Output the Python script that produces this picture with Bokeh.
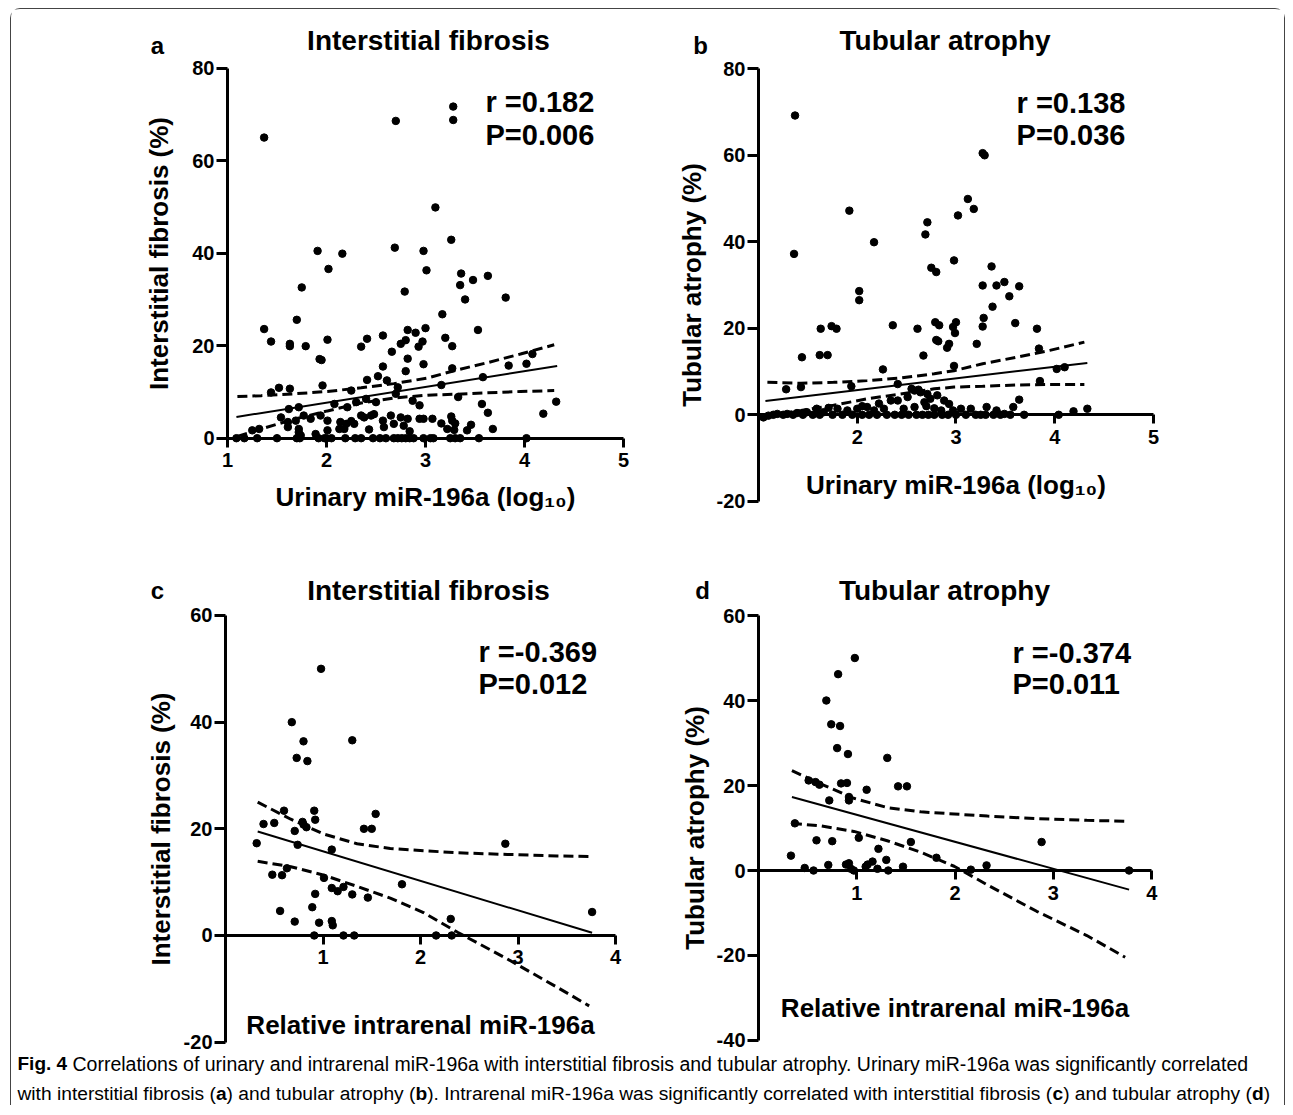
from bokeh.plotting import figure
from bokeh.models import Range1d, FixedTicker, Label
from bokeh.layouts import row, column
from bokeh.embed import file_html
from bokeh.resources import INLINE

FONT = "Liberation Sans"

# ---------------- panel a: urinary miR-196a vs interstitial fibrosis
a_x = [
    1.37, 2.70, 3.28, 3.28, 3.10, 3.26, 1.91, 2.16, 2.69, 2.98,
    2.02, 3.01, 3.36, 3.63, 3.48, 3.35, 1.75, 2.79, 3.40, 3.81,
    1.70, 3.17, 1.37, 3.53, 1.44, 1.63, 1.63, 1.79, 2.01, 2.41,
    2.35, 2.57, 2.82, 2.90, 3.00, 3.20, 3.27, 2.75, 2.80, 2.93,
    2.97, 1.93, 1.95, 2.82, 2.98, 2.66, 2.80, 2.57, 2.52, 3.27,
    3.84, 4.02, 4.08, 3.58, 2.41, 2.61, 1.52, 1.63, 1.96, 1.44,
    2.25, 2.72, 2.40, 2.50, 2.70, 2.87, 2.94, 1.62, 1.72, 2.08,
    2.21, 2.30, 2.35, 2.45, 2.48, 2.65, 2.75, 2.82, 2.94, 1.54,
    1.61, 1.69, 1.77, 1.84, 1.94, 2.01, 2.14, 2.20, 2.25, 2.38,
    2.57, 2.68, 2.78, 1.61, 1.72, 2.13, 2.18, 2.28, 2.43, 2.58,
    2.84, 1.25, 1.32, 1.72, 1.89, 2.01, 1.74, 3.16, 3.33, 3.57,
    4.32, 3.63, 4.19, 2.98, 3.07, 3.16, 3.26, 3.27, 3.30, 3.22,
    3.29, 3.46, 3.42, 3.68, 1.09, 1.17, 1.30, 1.50, 1.70, 1.73,
    1.92, 1.98, 2.00, 2.05, 2.19, 2.29, 2.35, 2.47, 2.54, 2.60,
    2.68, 2.72, 2.76, 2.80, 2.84, 2.88, 2.98, 3.05, 3.08, 3.25,
    3.30, 3.35, 3.54, 4.02]
a_y = [
    65.0, 68.6, 71.7, 68.8, 49.9, 42.9, 40.5, 39.9, 41.2, 40.5,
    36.6, 36.3, 35.6, 35.1, 34.2, 33.1, 32.6, 31.7, 30.0, 30.4,
    25.6, 26.8, 23.6, 23.4, 20.9, 20.4, 19.9, 19.9, 21.3, 21.5,
    19.8, 22.2, 23.4, 22.8, 23.8, 21.7, 19.9, 20.4, 21.2, 19.8,
    20.9, 17.1, 16.9, 17.2, 16.0, 18.7, 14.5, 15.5, 13.4, 15.1,
    15.7, 16.1, 18.2, 13.2, 12.6, 12.5, 10.9, 10.7, 11.4, 9.9,
    10.3, 11.0, 8.5, 7.8, 9.6, 8.1, 7.1, 6.3, 6.7, 7.4,
    6.7, 7.8, 4.9, 4.9, 5.2, 4.9, 4.5, 4.2, 4.2, 4.5,
    3.5, 3.8, 4.9, 4.2, 4.9, 3.8, 3.5, 3.1, 3.7, 4.5,
    3.8, 3.1, 2.7, 2.4, 2.0, 2.0, 2.0, 3.1, 1.9, 2.4,
    1.5, 1.7, 2.0, 1.3, 0.9, 1.7, 0.6, 11.5, 8.9, 7.4,
    7.9, 5.5, 5.3, 4.2, 4.2, 3.2, 4.7, 3.8, 3.2, 2.0,
    1.8, 2.9, 1.7, 2.0, 0, 0, 0, 0, 0, 0,
    0, 0, 0, 0, 0, 0, 0, 0, 0, 0,
    0, 0, 0, 0, 0, 0, 0, 0, 0, 0,
    0, 0, 0, 0]
a_fit_x = [1.09, 4.33]
a_fit_y = [4.6, 15.6]
a_ci_x = [1.10, 1.34, 1.67, 2.01, 2.35, 2.68, 3.02, 3.29, 3.62, 3.96, 4.30]
a_ci_hi = [9.0, 9.2, 9.6, 10.1, 10.9, 11.8, 13.0, 14.6, 16.3, 18.2, 20.2]
a_ci_lo = [0.4, 2.0, 4.1, 5.9, 7.6, 8.7, 9.3, 9.5, 9.8, 10.1, 10.3]

# ---------------- panel b: urinary miR-196a vs tubular atrophy
b_x = [
    1.37, 1.36, 1.92, 2.17, 2.02, 2.02, 2.36, 1.63, 1.74, 1.79,
    1.44, 1.62, 1.70, 2.26, 3.27, 3.29, 3.12, 3.18, 3.02, 2.71,
    2.69, 2.75, 2.80, 2.98, 3.36, 3.27, 3.41, 3.49, 3.64, 3.54,
    3.37, 3.28, 3.27, 2.79, 2.83, 2.97, 3.00, 2.99, 2.61, 2.80,
    2.82, 2.93, 2.91, 3.21, 3.60, 3.82, 2.67, 3.84, 4.02, 4.10,
    2.98, 3.85, 1.28, 1.43, 1.94, 3.64, 3.58, 4.19, 4.33, 4.04,
    3.69, 2.41, 2.34, 2.41, 2.51, 2.58, 2.64, 2.71, 2.74, 2.81,
    2.88, 2.93, 2.68, 2.58, 2.47, 2.27, 2.17, 2.10, 2.00, 1.90,
    1.80, 1.71, 1.66, 1.59, 1.49, 1.39, 1.29, 1.19, 1.10, 1.05,
    2.97, 3.05, 3.15, 3.31, 3.41, 3.49, 2.55, 2.62, 2.70, 2.78,
    2.85, 2.22, 2.05, 1.15, 1.25, 1.35, 1.45, 1.55, 1.62, 1.75,
    1.85, 1.95, 2.05, 2.12, 2.20, 2.30, 2.38, 2.45, 2.52, 2.60,
    2.66, 2.72, 2.78, 2.86, 2.92, 3.00, 3.10, 3.20, 3.25, 3.30,
    3.38, 3.45, 3.55]
b_y = [
    69.2, 37.2, 47.2, 39.9, 28.6, 26.5, 20.7, 19.9, 20.5, 19.9,
    13.3, 13.8, 13.8, 10.5, 60.5, 60.0, 49.9, 47.6, 46.1, 44.5,
    41.7, 34.0, 33.0, 35.7, 34.3, 29.9, 29.9, 30.7, 29.7, 27.4,
    25.0, 22.4, 20.4, 21.4, 20.7, 20.3, 21.4, 18.9, 19.9, 17.3,
    17.0, 16.4, 15.5, 16.4, 21.2, 19.9, 13.7, 15.3, 10.6, 11.0,
    11.3, 7.8, 5.9, 6.4, 6.6, 3.5, 1.8, 0.8, 1.4, 0,
    0, 7.1, 3.3, 3.3, 4.1, 5.6, 5.2, 4.8, 3.7, 4.5,
    3.3, 2.5, 2.9, 1.8, 1.4, 1.4, 1.0, 1.8, 1.4, 1.0,
    1.4, 1.6, 0.6, 1.4, 0.6, 0.4, 0.2, 0.2, -0.2, -0.6,
    1.0, 1.4, 1.4, 1.8, 1.0, 0.2, 6.0, 5.8, 2.0, 1.5,
    1.0, 2.6, 2.0, 0, 0, 0, 0, 0, 0, 0,
    0, 0, 0, 0, 0, 0, 0, 0, 0, 0,
    0, 0, 0, 0, 0, 0, 0, 0, 0, 0,
    0, 0, 0]
b_fit_x = [1.07, 4.33]
b_fit_y = [3.2, 12.0]
b_ci_x = [1.09, 1.43, 1.76, 2.10, 2.44, 2.78, 2.98, 3.27, 3.61, 3.95, 4.30]
b_ci_hi = [7.5, 7.3, 7.5, 7.9, 8.5, 9.5, 10.2, 11.8, 13.3, 14.9, 16.8]
b_ci_lo = [-0.2, 1.0, 2.2, 3.7, 4.8, 6.0, 6.4, 6.6, 6.9, 7.0, 7.0]

# ---------------- panel c: intrarenal miR-196a vs interstitial fibrosis
c_x = [0.98, 0.68, 0.80, 1.30, 0.73, 0.84, 0.60, 0.91, 1.54, 0.92,
       0.39, 0.50, 0.79, 0.80, 0.83, 0.71, 1.42, 1.50, 0.32, 0.74,
       1.09, 2.87, 0.48, 0.58, 0.63, 1.01, 1.09, 1.15, 1.21, 1.30,
       0.92, 1.46, 1.81, 0.89, 0.56, 0.71, 0.96, 1.09, 1.10, 2.31,
       3.76, 0.91, 1.21, 1.32, 2.16, 2.32]
c_y = [50.0, 40.0, 36.4, 36.6, 33.3, 32.7, 23.4, 23.4, 22.8, 21.7,
       20.9, 21.1, 21.3, 20.8, 20.3, 19.6, 20.0, 20.0, 17.3, 17.0,
       16.1, 17.2, 11.4, 11.3, 12.6, 10.8, 8.9, 8.3, 9.1, 7.7,
       7.8, 7.1, 9.6, 5.3, 4.6, 2.6, 2.4, 2.7, 1.9, 3.1,
       4.4, 0, 0, 0, 0, 0]
c_fit_x = [0.33, 3.76]
c_fit_y = [19.5, 0.5]
c_ci_x = [0.33, 0.67, 1.01, 1.35, 1.69, 2.03, 2.38, 2.89, 3.40, 3.73]
c_ci_hi = [25.0, 21.8, 19.0, 17.2, 16.3, 15.9, 15.5, 15.2, 14.9, 14.8]
c_ci_lo = [13.9, 12.9, 11.3, 9.2, 7.0, 4.3, 0.6, -4.4, -9.7, -13.2]

# ---------------- panel d: intrarenal miR-196a vs tubular atrophy
d_x = [0.98, 0.81, 0.69, 0.74, 0.83, 0.80, 0.91, 1.31, 0.84, 0.90,
       1.42, 1.51, 1.10, 0.51, 0.58, 0.62, 0.72, 0.92, 0.92, 0.37,
       0.59, 0.75, 1.02, 1.55, 1.22, 0.33, 0.47, 0.56, 0.71, 0.89,
       0.92, 0.94, 1.09, 1.11, 1.16, 1.21, 1.30, 1.32, 1.47, 1.81,
       2.16, 2.32, 2.88, 3.77, 0.97]
d_y = [50.0, 46.2, 40.0, 34.4, 34.0, 28.8, 27.4, 26.5, 20.5, 20.6,
       19.8, 19.8, 19.0, 21.2, 20.8, 20.2, 16.5, 16.5, 17.3, 11.1,
       7.1, 6.9, 7.7, 6.7, 5.1, 3.5, 0.6, 0, 1.3, 1.4,
       1.7, 0.4, 0.9, 1.4, 2.1, 0.4, 2.5, 0, 0.9, 3.0,
       0.2, 1.2, 6.7, 0, 0]
d_fit_x = [0.34, 3.77]
d_fit_y = [17.3, -4.5]
d_ci_x = [0.34, 0.63, 0.97, 1.31, 1.65, 1.99, 2.33, 2.83, 3.34, 3.73]
d_ci_hi = [23.5, 20.4, 17.0, 14.8, 13.8, 13.3, 12.8, 12.2, 11.8, 11.6]
d_ci_lo = [11.1, 10.5, 9.2, 7.0, 4.3, 1.0, -3.4, -9.6, -15.3, -20.4]

# ---------------- ticks and texts
a_xticks, a_xticklabels = [1, 2, 3, 4, 5], ["1", "2", "3", "4", "5"]
a_yticks, a_yticklabels = [0, 20, 40, 60, 80], ["0", "20", "40", "60", "80"]
b_xticks, b_xticklabels = [2, 3, 4, 5], ["2", "3", "4", "5"]
b_yticks, b_yticklabels = [-20, 0, 20, 40, 60, 80], ["-20", "0", "20", "40", "60", "80"]
c_xticks, c_xticklabels = [1, 2, 3, 4], ["1", "2", "3", "4"]
c_yticks, c_yticklabels = [-20, 0, 20, 40, 60], ["-20", "0", "20", "40", "60"]
d_xticks, d_xticklabels = [1, 2, 3, 4], ["1", "2", "3", "4"]
d_yticks, d_yticklabels = [-40, -20, 0, 20, 40, 60], ["-40", "-20", "0", "20", "40", "60"]

titles = ["Interstitial fibrosis", "Tubular atrophy", "Interstitial fibrosis", "Tubular atrophy"]
letters = ["a", "b", "c", "d"]
r_texts = ["r =0.182", "r =0.138", "r =-0.369", "r =-0.374"]
p_texts = ["P=0.006", "P=0.036", "P=0.012", "P=0.011"]
x_labels = ["Urinary miR-196a (log\u2081\u2080)", "Urinary miR-196a (log\u2081\u2080)",
            "Relative intrarenal miR-196a", "Relative intrarenal miR-196a"]
y_labels = ["Interstitial fibrosis (%)", "Tubular atrophy (%)",
            "Interstitial fibrosis (%)", "Tubular atrophy (%)"]
caption_bold = "Fig. 4"
caption_line1 = ("Correlations of urinary and intrarenal miR-196a with interstitial fibrosis and tubular "
                 "atrophy. Urinary miR-196a was significantly correlated")
# (text, bold) pieces of the second caption line
caption_line2 = [
    ("with interstitial fibrosis (", False), ("a", True), (") and tubular atrophy (", False),
    ("b", True), ("). Intrarenal miR-196a was significantly correlated with interstitial fibrosis (", False),
    ("c", True), (") and tubular atrophy (", False), ("d", True), (")", False)]

# Arial / Liberation Sans advance widths (1/1000 em), used to place caption pieces
REG_W = {' ': 278, '(': 333, ')': 333, '.': 278, '-': 333, 'a': 556, 'b': 556, 'c': 500,
         'd': 556, 'e': 556, 'f': 278, 'g': 556, 'h': 556, 'i': 222, 'l': 222, 'm': 833,
         'n': 556, 'o': 556, 'p': 556, 'r': 333, 's': 500, 't': 278, 'u': 556, 'w': 722,
         'y': 500, 'I': 278, 'R': 722}
BOLD_W = {'a': 556, 'b': 611, 'c': 556, 'd': 611}


def text_width(s, size, bold):
    table = BOLD_W if bold else REG_W
    return sum(table.get(ch, 556) for ch in s) * size / 1000.0


def txt(p, x, y, text, size, align="left", bold=True, font=FONT):
    p.add_layout(Label(x=x, y=y, text=text, text_font=font,
                       text_font_style="bold" if bold else "normal",
                       text_font_size=size, text_align=align, text_baseline="middle",
                       text_color="black"))


def panel(width, height, xr, yr, xloc, yloc, xbounds, ybounds,
          xticks, xtl, yticks, ytl, xs, ys, fx, fy, cx, chi, clo,
          i, xl_standoff, yl_standoff, pos):
    p = figure(width=width, height=height, x_range=Range1d(*xr), y_range=Range1d(*yr),
               output_backend="svg", toolbar_location=None, min_border=0)
    p.grid.visible = False
    p.outline_line_color = None
    p.background_fill_color = "white"
    p.border_fill_color = "white"
    p.xaxis.ticker = FixedTicker(ticks=xticks)
    p.yaxis.ticker = FixedTicker(ticks=yticks)
    p.xaxis.major_label_overrides = dict(zip(xticks, xtl))
    p.yaxis.major_label_overrides = dict(zip(yticks, ytl))
    p.xaxis.axis_label = x_labels[i]
    p.yaxis.axis_label = y_labels[i]
    p.xaxis.fixed_location = xloc
    p.yaxis.fixed_location = yloc
    p.xaxis.bounds = xbounds
    p.yaxis.bounds = ybounds
    for ax in p.axis:
        ax.axis_line_width = 3
        ax.axis_line_color = "black"
        ax.major_tick_line_width = 3
        ax.major_tick_line_color = "black"
        ax.major_tick_in = 0
        ax.minor_tick_line_color = None
        ax.major_label_text_font = FONT
        ax.major_label_text_font_style = "bold"
        ax.major_label_text_font_size = "20px"
        ax.major_label_text_color = "black"
        ax.axis_label_text_font = FONT
        ax.axis_label_text_font_style = "bold"
        ax.axis_label_text_font_size = "26px"
        ax.axis_label_text_color = "black"
    p.xaxis.major_tick_out = 9
    p.xaxis.major_label_standoff = 6
    p.yaxis.major_tick_out = 11
    p.yaxis.major_label_standoff = 2
    p.xaxis.axis_label_standoff = xl_standoff
    p.yaxis.axis_label_standoff = yl_standoff
    p.line(cx, chi, line_color="black", line_width=3, line_dash="10 5")
    p.line(cx, clo, line_color="black", line_width=3, line_dash="10 5")
    p.line(fx, fy, line_color="black", line_width=2)
    p.scatter(xs, ys, size=7.5, color="black")
    txt(p, pos[0][0], pos[0][1], letters[i], "24px", "center")
    txt(p, pos[1][0], pos[1][1], titles[i], "28px", "center")
    txt(p, pos[2][0], pos[2][1], r_texts[i], "29px", "left")
    txt(p, pos[3][0], pos[3][1], p_texts[i], "29px", "left")
    return p


pa = panel(638, 567, (-1.1818, 5.2626), (-29.90, 92.69), 0, 1, (1, 5), (0, 80),
           a_xticks, a_xticklabels, a_yticks, a_yticklabels,
           a_x, a_y, a_fit_x, a_fit_y, a_ci_x, a_ci_hi, a_ci_lo, 0, 11, 15,
           [(0.293, 84.9), (3.03, 86.0), (3.606, 72.6), (3.606, 65.6)])
pb = panel(635, 567, (-0.1038, 6.3266), (-37.39, 93.71), 0, 1, (1, 5), (-20, 80),
           b_xticks, b_xticklabels, b_yticks, b_yticklabels,
           b_x, b_y, b_fit_x, b_fit_y, b_ci_x, b_ci_hi, b_ci_lo, 1, 23, 7,
           [(0.413, 85.4), (2.889, 86.5), (3.613, 72.2), (3.613, 64.8)])
pc = panel(638, 477, (-2.1949, 4.3487), (-22.13, 67.31), 0, 0, (0, 4), (-20, 60),
           c_xticks, c_xticklabels, c_yticks, c_yticklabels,
           c_x, c_y, c_fit_x, c_fit_y, c_ci_x, c_ci_hi, c_ci_lo, 2, 42, 5,
           [(-0.697, 64.7), (2.082, 64.7), (2.595, 53.07), (2.595, 47.07)])
pd_ = panel(635, 477, (-1.1089, 5.3510), (-43.06, 69.18), 0, 0, (0, 4), (-40, 60),
            d_xticks, d_xticklabels, d_yticks, d_yticklabels,
            d_x, d_y, d_fit_x, d_fit_y, d_ci_x, d_ci_hi, d_ci_lo, 3, 90, 4,
            [(-0.570, 65.88), (1.892, 65.88), (2.584, 51.29), (2.584, 44.0)])

cap = figure(width=1273, height=52, x_range=Range1d(0, 1273), y_range=Range1d(0, 52),
             output_backend="svg", toolbar_location=None, min_border=0,
             x_axis_location=None, y_axis_location=None)
cap.grid.visible = False
cap.outline_line_color = None
txt(cap, 6, 42, caption_bold, "19px", "left", True)
txt(cap, 61, 42, caption_line1, "19.5px", "left", False)
size2 = 19.2
xpos = 6.0
for piece, is_bold in caption_line2:
    txt(cap, xpos, 12, piece, "%.1fpx" % size2, "left", is_bold)
    xpos += text_width(piece, size2, is_bold)

layout = column(row(pa, pb), row(pc, pd_), cap,
                styles={"margin-left": "10px", "margin-top": "8px",
                        "border-top": "1px solid #444", "border-left": "1px solid #444",
                        "border-right": "1px solid #444", "border-top-left-radius": "10px",
                        "border-top-right-radius": "10px"})

open("out.html", "w").write(file_html(layout, INLINE))
